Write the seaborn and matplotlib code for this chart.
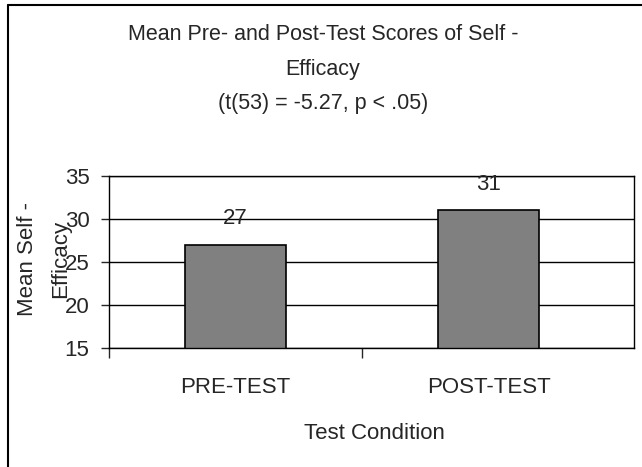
import matplotlib
matplotlib.use("Agg")
import matplotlib.pyplot as plt
import matplotlib.lines as mlines
import pandas as pd
import seaborn as sns

conditions = ["PRE-TEST", "POST-TEST"]
mean_scores = [27, 31]
y_ticks = [15, 20, 25, 30, 35]

df = pd.DataFrame({"Test Condition": conditions, "Mean": mean_scores})

sns.set_style("white")
plt.rcParams["font.family"] = ["Liberation Sans", "DejaVu Sans"]
fs = 16

fig = plt.figure(figsize=(6.42, 4.67), dpi=100)
ax = fig.add_axes([0.1698, 0.2548, 0.8178, 0.3683])

sns.barplot(data=df, x="Test Condition", y="Mean", order=conditions,
            color="#808080", edgecolor="black", linewidth=1.2,
            width=0.4, saturation=1, ax=ax)

ax.set_ylim(15, 35)
ax.set_yticks(y_ticks)
ax.set_xlim(-0.5, 1.575)
ax.yaxis.grid(True, color="black", linewidth=1)
ax.set_axisbelow(True)
for s in ax.spines.values():
    s.set_color("black")
    s.set_linewidth(1)

ax.tick_params(axis="y", length=6, width=1, pad=8, labelsize=fs, left=True)
ax.tick_params(axis="x", which="major", length=0, pad=21, labelsize=fs)
ax.set_xticks([-0.5, 0.5], minor=True)
ax.tick_params(axis="x", which="minor", length=7, width=1, bottom=True)

# value labels above bars
for p, v in zip(ax.patches, mean_scores):
    ax.annotate(f"{v}", (p.get_x() + p.get_width() / 2, p.get_height()),
                xytext=(0, 19), textcoords="offset points",
                ha="center", va="center", fontsize=fs)

ax.set_ylabel("")
ax.set_xlabel("Test Condition", fontsize=fs)
ax.xaxis.set_label_coords(0.505, -0.435)

fig.text(0.069, 0.445, "Mean Self -\nEfficacy", rotation=90, ha="center",
         va="center", fontsize=fs, linespacing=1.75)

fig.text(0.503, 0.852, "Mean Pre- and Post-Test Scores of Self -\nEfficacy\n(t(53) = -5.27, p < .05)",
         ha="center", va="center", fontsize=15.5, linespacing=1.85)

# outer frame (only top/left visible)
fig.add_artist(mlines.Line2D([0.0125, 1.0], [0.9893, 0.9893], color="black", lw=1.5))
fig.add_artist(mlines.Line2D([0.0125, 0.0125], [0.0, 0.9893], color="black", lw=1.5))

fig.savefig("out.png", dpi=100)
